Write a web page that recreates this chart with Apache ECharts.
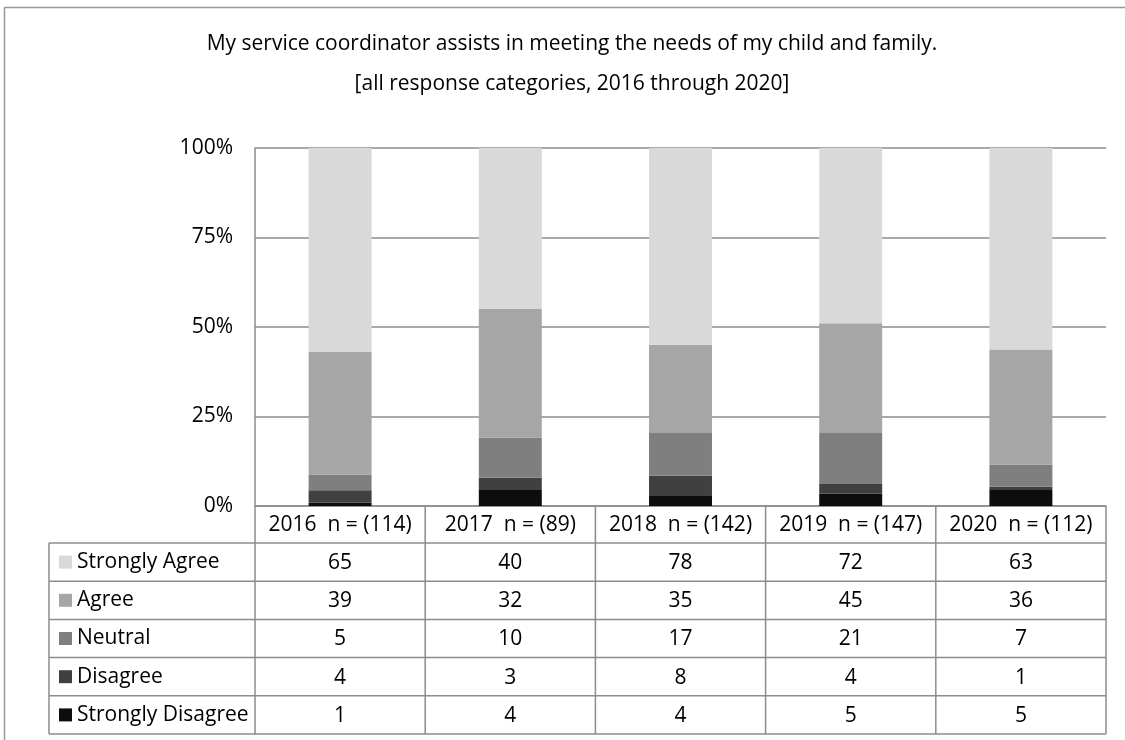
<!DOCTYPE html>
<html><head><meta charset="utf-8">
<script src="https://cdn.jsdelivr.net/npm/echarts@6/dist/echarts.min.js"></script>
<style>html,body{margin:0;padding:0;background:#fff}#c{width:1125px;height:740px}</style>
</head><body><div id="c"></div><script>
// ---- data ----
const years = ['2016', '2017', '2018', '2019', '2020'];
const categoryNames = ['Strongly Agree', 'Agree', 'Neutral', 'Disagree', 'Strongly Disagree'];
const stronglyAgree = [65, 40, 78, 72, 63];
const agree = [39, 32, 35, 45, 36];
const neutral = [5, 10, 17, 21, 7];
const disagree = [4, 3, 8, 4, 1];
const stronglyDisagree = [1, 4, 4, 5, 5];
const yTickLabels = ['0%', '25%', '50%', '75%', '100%'];
const titleText = 'My service coordinator assists in meeting the needs of my child and family.';
const subtitleText = '[all response categories, 2016 through 2020]';

// ---- styling ----
const FONT = '"Open Sans", sans-serif';
const FS = 21;
const colors = ['#d9d9d9', '#a6a6a6', '#7f7f7f', '#404040', '#0d0d0d'];
const lineColor = '#8c8c8c';
const rows = [stronglyAgree, agree, neutral, disagree, stronglyDisagree];
const totals = years.map((y, i) => rows.reduce((s, r) => s + r[i], 0));

const G = { left: 255, right: 1106, top: 148, bottom: 506 };
const headerBottom = 543;
const rowH = (734 - 543) / 5;
const tableBottom = 734;
const legendLeft = 49;
const colW = (G.right - G.left) / years.length;

const headerCenter = (G.bottom + headerBottom) / 2;

const xAxes = [{
  type: 'category', data: years, gridIndex: 0, position: 'bottom',
  axisLine: { show: true, lineStyle: { color: lineColor, width: 1.5 } },
  axisTick: { show: false },
  axisLabel: {
    interval: 0, hideOverlap: false,
    margin: 9, fontFamily: FONT, fontSize: FS, color: '#000',
    formatter: (v, i) => v + '  n = (' + totals[i] + ')'
  }
}];
rows.forEach((r, k) => {
  const center = headerBottom + rowH * (k + 0.5);
  xAxes.push({
    type: 'category', data: years, gridIndex: 0, position: 'bottom',
    offset: center - headerCenter,
    axisLine: { show: false }, axisTick: { show: false }, splitLine: { show: false },
    axisLabel: {
      interval: 0, hideOverlap: false,
      margin: 9, fontFamily: FONT, fontSize: FS, color: '#000',
      formatter: (v, i) => String(r[i])
    }
  });
});

const stackOrder = [4, 3, 2, 1, 0]; // bottom first
const series = stackOrder.map(k => ({
  name: categoryNames[k],
  type: 'bar',
  stack: 'total',
  xAxisIndex: 0,
  barWidth: '37%',
  itemStyle: { color: colors[k] },
  emphasis: { disabled: true },
  data: rows[k].map((v, i) => v / totals[i] * 100)
}));

const graphics = [];
function hline(x1, x2, y) { graphics.push({ type: 'line', silent: true, shape: { x1, y1: y, x2, y2: y }, style: { stroke: lineColor, lineWidth: 1.5 } }); }
function vline(x, y1, y2) { graphics.push({ type: 'line', silent: true, shape: { x1: x, y1, x2: x, y2 }, style: { stroke: lineColor, lineWidth: 1.5 } }); }
// outer frame
graphics.push({ type: 'line', silent: true, shape: { x1: 4.5, y1: 7, x2: 4.5, y2: 740 }, style: { stroke: '#999', lineWidth: 1.5 } });
graphics.push({ type: 'line', silent: true, shape: { x1: 4, y1: 7.5, x2: 1125, y2: 7.5 }, style: { stroke: '#999', lineWidth: 1.5 } });
// table
for (let i = 0; i <= years.length; i++) vline(G.left + colW * i, G.bottom, tableBottom);
vline(legendLeft, headerBottom, tableBottom);
hline(G.left, G.right, headerBottom);
for (let k = 1; k <= 5; k++) hline(legendLeft, G.right, headerBottom + rowH * k);
hline(legendLeft, G.left, headerBottom);

const LH = 22;
const chart = echarts.init(document.getElementById('c'), null, { renderer: 'canvas' });
chart.setOption({
  animation: false,
  backgroundColor: '#fff',
  title: [
    { text: titleText, left: 567, top: 29, textAlign: 'center', textStyle: { fontFamily: FONT, fontSize: FS, fontWeight: 'normal', color: '#000' } },
    { text: subtitleText, left: 567, top: 69, textAlign: 'center', textStyle: { fontFamily: FONT, fontSize: FS, fontWeight: 'normal', color: '#000' } }
  ],
  legend: {
    orient: 'vertical', left: 59, top: headerBottom + rowH / 2 - LH / 2, padding: 0,
    itemWidth: 13, itemHeight: 13, itemGap: rowH - LH, icon: 'rect',
    selectedMode: false,
    data: categoryNames,
    textStyle: { fontFamily: FONT, fontSize: FS, lineHeight: LH, height: LH, color: '#000' }
  },
  grid: { left: G.left, right: 1125 - G.right, top: G.top, bottom: 740 - G.bottom, containLabel: false },
  xAxis: xAxes,
  yAxis: {
    type: 'value', min: 0, max: 100, interval: 25,
    axisLine: { show: true, lineStyle: { color: lineColor, width: 1.5 } },
    axisTick: { show: false },
    splitLine: { show: true, lineStyle: { color: lineColor, width: 1.5 } },
    axisLabel: {
      margin: 22, fontFamily: FONT, fontSize: FS, color: '#000',
      formatter: v => yTickLabels[Math.round(v / 25)]
    }
  },
  series,
  graphic: graphics
});
</script></body></html>
